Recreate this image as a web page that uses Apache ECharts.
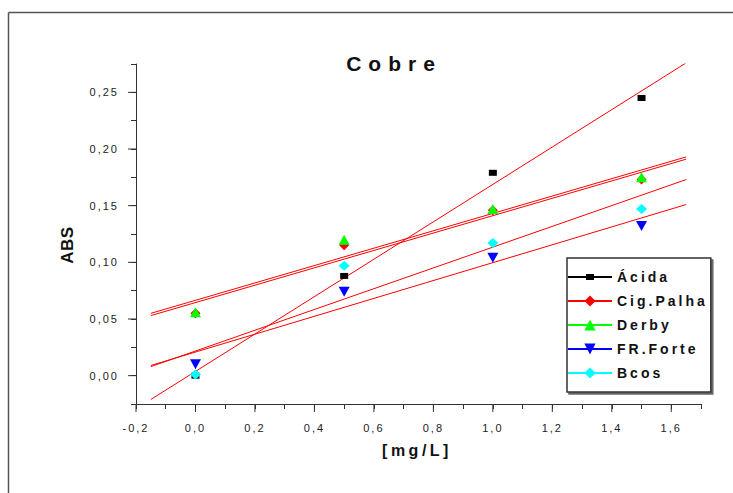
<!DOCTYPE html>
<html><head><meta charset="utf-8">
<script src="https://cdn.jsdelivr.net/npm/echarts@6/dist/echarts.min.js"></script>
<style>html,body{margin:0;padding:0;background:#fff}#c{width:733px;height:493px}</style>
</head><body><div id="c"></div>
<script>
// ---- data ----
const xValues = [0, 0.5, 1.0, 1.5];
const acida    = [0.000, 0.088, 0.179, 0.245];
const cigPalha = [0.055, 0.115, 0.146, 0.173];
const derby    = [0.056, 0.120, 0.147, 0.175];
const frForte  = [0.010, 0.074, 0.104, 0.132];
const bcos     = [0.001, 0.097, 0.117, 0.147];
// fitted straight lines (end values)
const fitX        = [-0.15, 1.65];
const fitAcida    = [-0.021, 0.276];
const fitCigPalha = [0.053, 0.191];
const fitDerby    = [0.055, 0.193];
const fitFrForte  = [0.009, 0.151];
const fitBcos     = [0.008, 0.173];
const xMajorTicks = [-0.2, 0, 0.2, 0.4, 0.6, 0.8, 1.0, 1.2, 1.4, 1.6];
const yMajorTicks = [0, 0.05, 0.10, 0.15, 0.20, 0.25];
const seriesNames = ['Ácida', 'Cig.Palha', 'Derby', 'FR.Forte', 'Bcos'];
const titleText = 'Cobre';
const xName = '[mg/L]';
const yName = 'ABS';

const X_MIN = -0.2, X_MAX = 1.7, Y_MIN = -0.025, Y_MAX = 0.275;
const FONT = "'Liberation Sans', Arial, sans-serif";
const AX = '#333';

const pts = ys => xValues.map((x, i) => [x, ys[i]]);
const marks = [
  { name: seriesNames[0], ys: acida,    color: '#000000', symbol: 'rect',     size: [8, 6],   rot: 0 },
  { name: seriesNames[1], ys: cigPalha, color: '#ff0000', symbol: 'diamond',  size: [10, 10], rot: 0 },
  { name: seriesNames[2], ys: derby,    color: '#00ff00', symbol: 'triangle', size: [11, 10], rot: 0 },
  { name: seriesNames[3], ys: frForte,  color: '#0000ff', symbol: 'triangle', size: [11, 10], rot: 180 },
  { name: seriesNames[4], ys: bcos,     color: '#00ffff', symbol: 'diamond',  size: [11, 10], rot: 0 }
];
const fits = [fitAcida, fitCigPalha, fitDerby, fitFrForte, fitBcos];

const series = [];
marks.forEach(m => series.push({
  name: m.name, type: 'line', data: pts(m.ys),
  symbol: m.symbol, symbolSize: m.size, symbolRotate: m.rot, showAllSymbol: true,
  itemStyle: { color: m.color }, lineStyle: { color: m.color, opacity: 0, width: 2 },
  silent: true, emphasis: { disabled: true }, animation: false
}));
fits.forEach((f, i) => series.push({
  name: 'fit' + i, type: 'line', data: fitX.map((x, j) => [x, f[j]]),
  showSymbol: false, symbol: 'none', lineStyle: { color: '#ff0000', width: 1 },
  silent: true, emphasis: { disabled: true }, animation: false
}));
// longer major ticks
series.push({
  type: 'custom', silent: true, clip: false, animation: false,
  data: xMajorTicks.map(v => [v, Y_MIN]),
  renderItem: (p, api) => { const c = api.coord([api.value(0), api.value(1)]);
    return { type: 'line', shape: { x1: c[0], y1: c[1], x2: c[0], y2: c[1] + 8 }, style: { stroke: AX, lineWidth: 1 } }; }
});
series.push({
  type: 'custom', silent: true, clip: false, animation: false,
  data: yMajorTicks.map(v => [X_MIN, v]),
  renderItem: (p, api) => { const c = api.coord([api.value(0), api.value(1)]);
    return { type: 'line', shape: { x1: c[0], y1: c[1], x2: c[0] - 8, y2: c[1] }, style: { stroke: AX, lineWidth: 1 } }; }
});

const legendData = seriesNames.map((n, i) => i === 0
  ? { name: n, icon: 'path://M0,6H44V8H0Z M18,4H26V10H18Z', itemStyle: { color: '#000' } }
  : { name: n });

const chart = echarts.init(document.getElementById('c'), null, { renderer: 'svg' });
chart.setOption({
  animation: false,
  backgroundColor: '#ffffff',
  grid: { left: 136, right: 32, top: 64, bottom: 89 },
  xAxis: {
    type: 'value', min: X_MIN, max: X_MAX, interval: 0.1,
    axisLine: { show: true, onZero: false, lineStyle: { color: AX, width: 1 } },
    axisTick: { show: true, length: 5, lineStyle: { color: AX } },
    splitLine: { show: false },
    axisLabel: { margin: 18, fontSize: 11, color: '#222', fontFamily: FONT,
      formatter: v => { const k = Math.round(v * 10); if (k % 2 !== 0) return ''; return (k / 10).toFixed(1).replace('.', ','); } }
  },
  yAxis: {
    type: 'value', min: Y_MIN, max: Y_MAX, interval: 0.025,
    axisLine: { show: true, onZero: false, lineStyle: { color: AX, width: 1 } },
    axisTick: { show: true, length: 5, lineStyle: { color: AX } },
    splitLine: { show: false },
    axisLabel: { margin: 17, fontSize: 11, color: '#222', fontFamily: FONT,
      formatter: v => { const k = Math.round(v * 1000); if (k % 50 !== 0) return ''; return (k / 1000).toFixed(2).replace('.', ','); } }
  },
  legend: {
    data: legendData, orient: 'vertical', left: 567, top: 258,
    itemWidth: 44, itemHeight: 14, itemGap: 10,
    padding: [12, 30, 12, 0],
    backgroundColor: '#ffffff', borderColor: '#333', borderWidth: 1.5, borderRadius: 0,
    shadowColor: '#666', shadowOffsetX: 2, shadowOffsetY: 2, shadowBlur: 0,
    selectedMode: false,
    lineStyle: { opacity: 1, width: 2 },
    textStyle: { fontSize: 14, fontWeight: 'bold', color: '#111', fontFamily: FONT }
  },
  graphic: [
    { type: 'line', shape: { x1: 8.5, y1: 12.5, x2: 733, y2: 12.5 }, style: { stroke: '#555', lineWidth: 1.5 }, silent: true },
    { type: 'line', shape: { x1: 8.5, y1: 12.5, x2: 8.5, y2: 493 }, style: { stroke: '#555', lineWidth: 1.5 }, silent: true },
    { type: 'text', x: 394, y: 63, style: { text: titleText, font: "bold 21px " + FONT, fill: '#111', textAlign: 'center', textVerticalAlign: 'middle' }, silent: true },
    { type: 'text', x: 417, y: 450, style: { text: xName, font: "bold 16px " + FONT, fill: '#111', textAlign: 'center', textVerticalAlign: 'middle' }, silent: true },
    { type: 'text', x: 67, y: 245, rotation: Math.PI / 2, style: { text: yName, font: "bold 17px " + FONT, fill: '#111', textAlign: 'center', textVerticalAlign: 'middle' }, silent: true }
  ],
  series: series
});

function spacing() {
  document.querySelectorAll('#c svg text').forEach(t => {
    const fs = parseFloat(getComputedStyle(t).fontSize);
    let ls = 0;
    if (fs >= 20) ls = 7; else if (fs === 17) ls = 0.5; else if (fs === 16) ls = 3.5;
    else if (fs === 14) ls = 3; else if (fs === 11) ls = 2;
    t.style.letterSpacing = ls + 'px';
  });
}
chart.on('finished', spacing);
setTimeout(spacing, 30);
setTimeout(spacing, 200);
</script></body></html>
